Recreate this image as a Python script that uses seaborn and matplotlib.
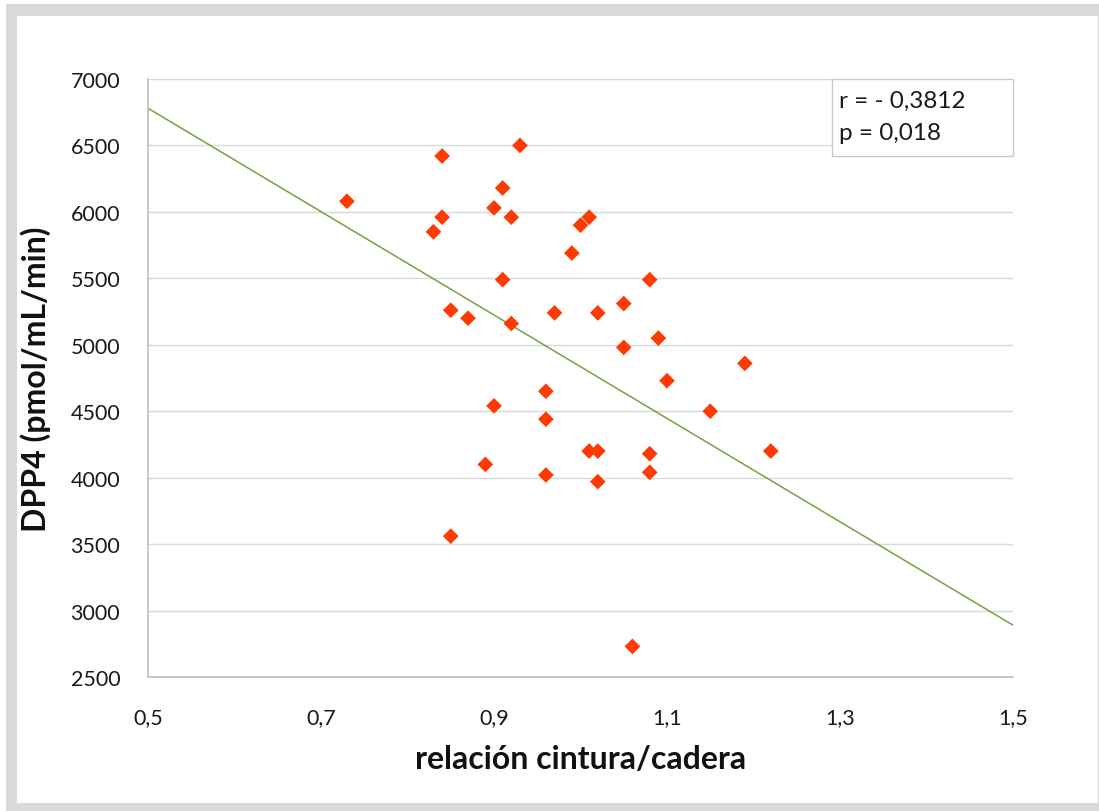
import matplotlib
matplotlib.use("Agg")
import matplotlib.pyplot as plt
from matplotlib.patches import Rectangle
import seaborn as sns
import pandas as pd

# Waist-to-hip ratio vs DPP4 activity
ratio = [0.73, 0.84, 0.84, 0.83, 0.85, 0.87, 0.85, 0.89, 0.90, 0.90,
         0.91, 0.91, 0.92, 0.92, 0.93, 0.96, 0.96, 0.96, 0.97, 0.99,
         1.00, 1.01, 1.01, 1.02, 1.02, 1.02, 1.05, 1.05, 1.08, 1.08,
         1.08, 1.09, 1.10, 1.15, 1.19, 1.22, 1.06]
dpp4 = [6080, 6420, 5960, 5850, 5260, 5200, 3560, 4100, 6030, 4540,
        6180, 5490, 5960, 5160, 6500, 4650, 4440, 4020, 5240, 5690,
        5900, 5960, 4200, 4200, 3970, 5240, 5310, 4980, 5490, 4180,
        4040, 5050, 4730, 4500, 4860, 4200, 2730]

# Linear trend line end points
trend_x = [0.5, 1.5]
trend_y = [6780, 2890]

x_ticks = [0.5, 0.7, 0.9, 1.1, 1.3, 1.5]
x_tick_labels = ["0,5", "0,7", "0,9", "1,1", "1,3", "1,5"]
y_ticks = [2500, 3000, 3500, 4000, 4500, 5000, 5500, 6000, 6500, 7000]

stats_lines = ["r = - 0,3812", "p = 0,018"]

sns.set_theme(style="white")
plt.rcParams["font.family"] = ["Lato", "DejaVu Sans"]

W, H = 1099, 812
fig = plt.figure(figsize=(W / 100, H / 100), dpi=100)
fig.patch.set_facecolor("white")

# Grey outer frame with white panel
fig.add_artist(Rectangle((6 / W, 0), 1 - 6 / W, 1 - 5 / H,
                         transform=fig.transFigure, facecolor="#d9d9d9",
                         edgecolor="none", zorder=-10))
fig.add_artist(Rectangle((17 / W, 8 / H), (1098 - 17) / W, (804 - 17) / H,
                         transform=fig.transFigure, facecolor="white",
                         edgecolor="none", zorder=-9))

left, right = 148 / W, 1013 / W
top, bottom = 1 - 80 / H, 1 - 678 / H
ax = fig.add_axes([left, bottom, right - left, top - bottom])
ax.set_facecolor("none")

df = pd.DataFrame({"ratio": ratio, "dpp4": dpp4})
trend = pd.DataFrame({"x": trend_x, "y": trend_y})

sns.lineplot(data=trend, x="x", y="y", ax=ax, color="#77a043",
             linewidth=1.1, zorder=2)
sns.scatterplot(data=df, x="ratio", y="dpp4", ax=ax, marker="D", s=64,
                color="#ff3a00", edgecolor="none", linewidth=0, zorder=3)

ax.set_xlim(0.5, 1.5)
ax.set_ylim(2500, 7000)
ax.set_xticks(x_ticks)
ax.set_xticklabels(x_tick_labels)
ax.set_yticks(y_ticks)
ax.set_yticklabels([str(v) for v in y_ticks])
ax.tick_params(axis="both", length=0, labelsize=15.5, colors="#1a1a1a")
ax.tick_params(axis="x", pad=22)
ax.tick_params(axis="y", pad=20)

ax.yaxis.grid(True, color="#d9d9d9", linewidth=1.0)
ax.xaxis.grid(False)
ax.set_axisbelow(True)

for side in ["top", "right"]:
    ax.spines[side].set_visible(False)
for side in ["left", "bottom"]:
    ax.spines[side].set_visible(True)
    ax.spines[side].set_color("#bfbfbf")
    ax.spines[side].set_linewidth(1.2)

ax.set_xlabel("relación cintura/cadera", fontsize=23, fontweight="bold",
              color="#111111", labelpad=12)
ax.set_ylabel("DPP4 (pmol/mL/min)", fontsize=23, fontweight="bold",
              color="#111111", labelpad=14)

# Correlation statistics box in the upper-right corner
ax.add_patch(Rectangle((0.791, 0.871), 0.209, 0.129, transform=ax.transAxes,
                       facecolor="white", edgecolor="#c8c8c8", linewidth=1.0,
                       zorder=5, clip_on=False))
for line, y in zip(stats_lines, [0.964, 0.910]):
    ax.text(0.799, y, line, transform=ax.transAxes, fontsize=17.5,
            va="center", ha="left", color="#1a1a1a", zorder=6)

fig.savefig("out.png", dpi=100)
